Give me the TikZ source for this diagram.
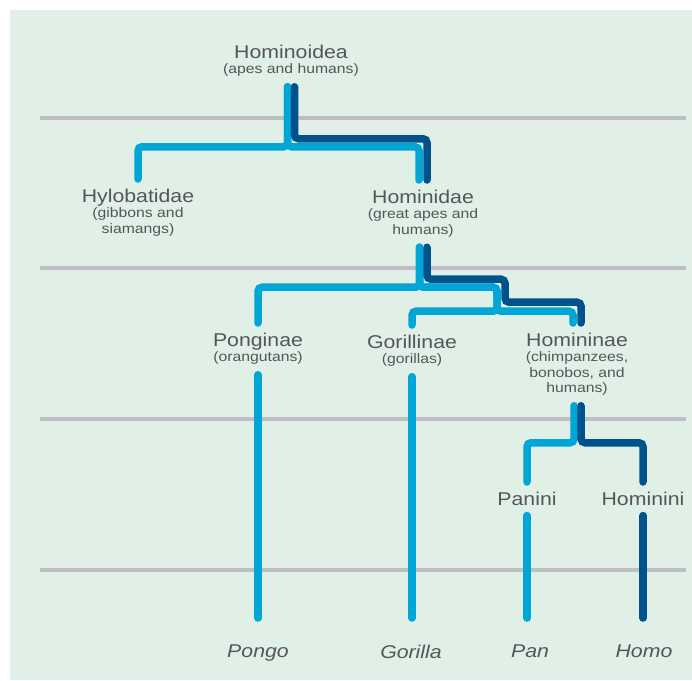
\documentclass[tikz,border=0pt]{standalone}
\usepackage{fontspec}
\setmainfont{Liberation Sans}[FakeStretch=1.15]

\definecolor{apeblue}{RGB}{0,166,214}
\definecolor{humanblue}{RGB}{0,82,140}
\definecolor{panelgreen}{RGB}{225,240,230}
\definecolor{levelgray}{RGB}{190,190,196}
\definecolor{labelgray}{RGB}{85,85,92}

\newcommand{\subt}[1]{{\fontsize{13.7}{15.5}\selectfont #1}}

\tikzset{
  taxon/.style={align=center, anchor=north, inner sep=0pt, outer ysep=10pt, text=labelgray, font=\fontsize{18.5}{15.5}\selectfont},
  genus/.style={anchor=north, inner sep=0pt, outer ysep=27pt, text=labelgray, font=\fontsize{18.5}{20}\selectfont\itshape},
  apes/.style={draw=apeblue, line width=7.5pt, line cap=round, rounded corners=4pt},
  humans/.style={draw=humanblue, line width=7.5pt, line cap=round, rounded corners=4pt},
  level/.style={draw=levelgray, line width=4pt}
}

\begin{document}
\begin{tikzpicture}[x=1pt, y=-1pt]
  \fill[white] (0,0) rectangle (692,680);
  \fill[panelgreen] (10,10) rectangle (692,680);
  \useasboundingbox (0,0) rectangle (692,680);
  \foreach \y in {118,268,419,570}
    \draw[level] (40,\y) -- (686,\y);

  % taxa
  \node[taxon] (root) at (291,35) {Hominoidea\\\subt{(apes and humans)}};
  \node[taxon] (hylo) at (138,179) {Hylobatidae\\\subt{(gibbons and}\\\subt{siamangs)}};
  \node[taxon] (homd) at (423,180) {Hominidae\\\subt{(great apes and}\\\subt{humans)}};
  \node[taxon] (pong) at (258,323) {Ponginae\\\subt{(orangutans)}};
  \node[taxon] (gori) at (412,325) {Gorillinae\\\subt{(gorillas)}};
  \node[taxon] (homn) at (577,323) {Homininae\\\subt{(chimpanzees,}\\\subt{bonobos, and}\\\subt{humans)}};
  \node[taxon] (pani) at (527,482) {Panini};
  \node[taxon] (homi) at (643,482) {Hominini};

  % genera
  \node[genus] (pongo) at (258,618) {Pongo};
  \node[genus] (gorilla) at (411,618) {Gorilla};
  \node[genus] (pan) at (530,618) {Pan};
  \node[genus] (homo) at (644,618) {Homo};

  % branches
  \draw[apes] ([xshift=-3.5pt]root.south) -- ++(0,60) -| (hylo.north);
  \draw[apes] ([xshift=-3.5pt]root.south) -- ++(0,60) -| ([xshift=-4pt]homd.north);
  \draw[humans] ([xshift=3.5pt]root.south) -- ++(0,52) -| ([xshift=4pt]homd.north);

  \draw[apes] ([xshift=-3.5pt]homd.south) -- ++(0,40) -| (pong.north);
  \draw[apes] ([xshift=-3.5pt]homd.south) -- ++(0,40) -| ++(77.5,24) -| (gori.north);
  \draw[apes] ([xshift=-3.5pt]homd.south) -- ++(0,40) -| ++(77.5,24) -| ([xshift=-4pt]homn.north);
  \draw[humans] ([xshift=4pt]homd.south) -- ++(0,32) -| ++(78,23) -| ([xshift=4pt]homn.north);

  \draw[apes] ([xshift=-3pt]homn.south) -- ++(0,37) -| (pani.north);
  \draw[humans] ([xshift=4pt]homn.south) -- ++(0,37) -| (homi.north);

  \draw[apes] (pong.south) -- (pong.south |- pongo.north);
  \draw[apes] (gori.south) -- (gori.south |- gorilla.north);
  \draw[apes] (pani.south) -- (pani.south |- pan.north);
  \draw[humans] (homi.south) -- (homi.south |- homo.north);
\end{tikzpicture}
\end{document}
